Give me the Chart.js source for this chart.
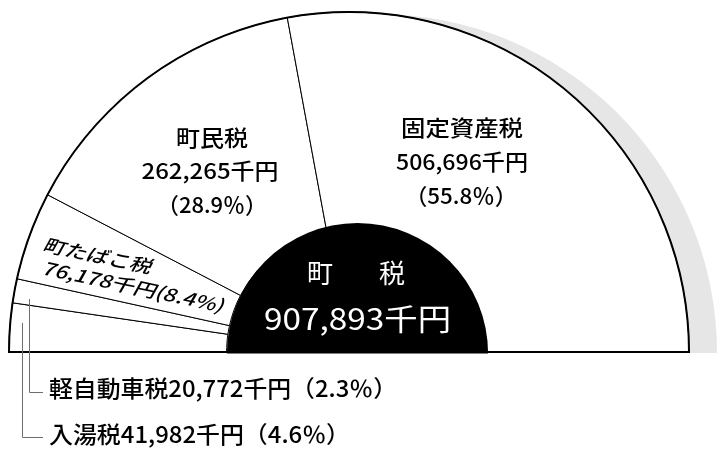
<!DOCTYPE html>
<html><head><meta charset="utf-8">
<script src="https://cdn.jsdelivr.net/npm/chart.js@4.4.1/dist/chart.umd.min.js"></script>
<style>html,body{margin:0;padding:0;background:#fff;}canvas{display:block;}</style>
</head><body>
<canvas id="c" width="717" height="449"></canvas>
<script>
// ---- data ----
const categories = ['入湯税', '軽自動車税', '町たばこ税', '町民税', '固定資産税'];
const values = [41982, 20772, 76178, 262265, 506696];
const percents = [4.6, 2.3, 8.4, 28.9, 55.8];
const totalLabel = '町　税';
const totalValue = 907893;
const unit = '千円';

const fmt = n => n.toLocaleString('en-US');
const FONT = '"Noto Sans CJK JP", "Noto Sans", sans-serif';

function fitText(ctx, text, x, y, width, align, font) {
  ctx.font = font;
  ctx.textAlign = 'left';
  ctx.textBaseline = 'middle';
  const w = ctx.measureText(text).width;
  const sx = width / w;
  ctx.save();
  ctx.translate(x, y);
  ctx.scale(sx, 1);
  const x0 = align === 'center' ? -w / 2 : (align === 'right' ? -w : 0);
  ctx.fillText(text, x0, 0);
  ctx.restore();
}

function geom(chart) {
  const meta = chart.getDatasetMeta(0);
  const a = meta.data[0];
  return { meta, x: a.x, y: a.y, R: a.outerRadius, r: a.innerRadius };
}

const decor = {
  id: 'decor',
  beforeDatasetsDraw(chart) {
    const { x, y, R } = geom(chart);
    const ctx = chart.ctx;
    ctx.save();
    ctx.fillStyle = '#e6e6e6';
    const sx = x + R * 0.0853;
    ctx.beginPath();
    ctx.moveTo(sx - (R - 1), y + 1);
    ctx.arc(sx, y + 1, R - 1, Math.PI, 2 * Math.PI);
    ctx.closePath();
    ctx.fill();
    ctx.restore();
  },
  afterDatasetsDraw(chart) {
    const { meta, x, y, R } = geom(chart);
    const ctx = chart.ctx;
    ctx.save();
    // outer outline
    ctx.strokeStyle = '#000';
    ctx.lineWidth = 2;
    ctx.beginPath();
    ctx.arc(x, y, R, Math.PI, 2 * Math.PI);
    ctx.stroke();
    ctx.beginPath();
    ctx.moveTo(x - R - 1, y);
    ctx.lineTo(x + R + 1, y);
    ctx.stroke();
    // black centre semicircle
    const bx = x + R * 0.025, br = R * 0.384;
    ctx.fillStyle = '#000';
    ctx.beginPath();
    ctx.moveTo(bx - br, y + 1.5);
    ctx.arc(bx, y + 1.5, br, Math.PI, 2 * Math.PI);
    ctx.closePath();
    ctx.fill();
    // leader lines for the two small slices
    const leaders = [
      { i: 0, frac: 0.61, rr: 0.965, ly: 437 },
      { i: 1, frac: 0.26, rr: 0.953, ly: 392 }
    ];
    ctx.strokeStyle = '#6e6e6e';
    ctx.lineWidth = 1;
    leaders.forEach(l => {
      const el = meta.data[l.i];
      const ang = el.startAngle + (el.endAngle - el.startAngle) * l.frac;
      const ax = Math.round(x + R * l.rr * Math.cos(ang)) + 0.5;
      const ay = y + R * l.rr * Math.sin(ang);
      ctx.beginPath();
      ctx.moveTo(ax, ay);
      ctx.lineTo(ax, l.ly + 0.5);
      ctx.lineTo(43, l.ly + 0.5);
      ctx.stroke();
    });
    ctx.restore();
  },
  afterDraw(chart) {
    const ctx = chart.ctx;
    ctx.save();
    ctx.fillStyle = '#000';
    const F21 = '500 22px ' + FONT;
    // 町民税
    fitText(ctx, categories[3], 212, 137.5, 72, 'center', F21);
    fitText(ctx, fmt(values[3]) + unit, 210, 171, 137, 'center', F21);
    fitText(ctx, '（' + percents[3].toFixed(1) + '％）', 212, 205, 110, 'center', F21);
    // 固定資産税
    fitText(ctx, categories[4], 462, 128, 122, 'center', F21);
    fitText(ctx, fmt(values[4]) + unit, 462, 162, 132, 'center', F21);
    fitText(ctx, '（' + percents[4].toFixed(1) + '％）', 461, 196, 112, 'center', F21);
    // bottom labels
    const F22 = '500 23px ' + FONT;
    fitText(ctx, categories[1] + fmt(values[1]) + unit + '（' + percents[1].toFixed(1) + '％）', 49, 388, 348, 'left', F22);
    fitText(ctx, categories[0] + fmt(values[0]) + unit + '（' + percents[0].toFixed(1) + '％）', 49, 434, 301, 'left', F22);
    // rotated 町たばこ税
    ctx.save();
    ctx.translate(43, 244);
    ctx.rotate(12 * Math.PI / 180);
    const FI = 'italic 500 18px ' + FONT;
    fitText(ctx, categories[2], 0, 0, 110, 'left', FI);
    fitText(ctx, fmt(values[2]) + unit + '(' + percents[2].toFixed(1) + '%)', 4, 23, 185, 'left', FI);
    ctx.restore();
    // centre text
    ctx.fillStyle = '#fff';
    ctx.font = '26px ' + FONT;
    ctx.textAlign = 'left';
    ctx.textBaseline = 'middle';
    ctx.letterSpacing = '10px';
    ctx.fillText(totalLabel, 307, 273.5);
    ctx.letterSpacing = '0px';
    fitText(ctx, fmt(totalValue) + unit, 357.5, 318.5, 187, 'center', '30px ' + FONT);
    ctx.restore();
  }
};

new Chart(document.getElementById('c'), {
  type: 'doughnut',
  data: {
    labels: categories,
    datasets: [{
      data: values,
      backgroundColor: '#ffffff',
      borderColor: '#000000',
      borderWidth: 1,
      hoverOffset: 0
    }]
  },
  options: {
    responsive: false,
    animation: false,
    devicePixelRatio: 1,
    rotation: -90,
    circumference: 180,
    cutout: '36%',
    layout: { padding: { left: 8.5, right: 27.5, top: 11.5, bottom: 96.5 } },
    plugins: { legend: { display: false }, tooltip: { enabled: false } },
    events: []
  },
  plugins: [decor]
});
</script>
</body></html>
